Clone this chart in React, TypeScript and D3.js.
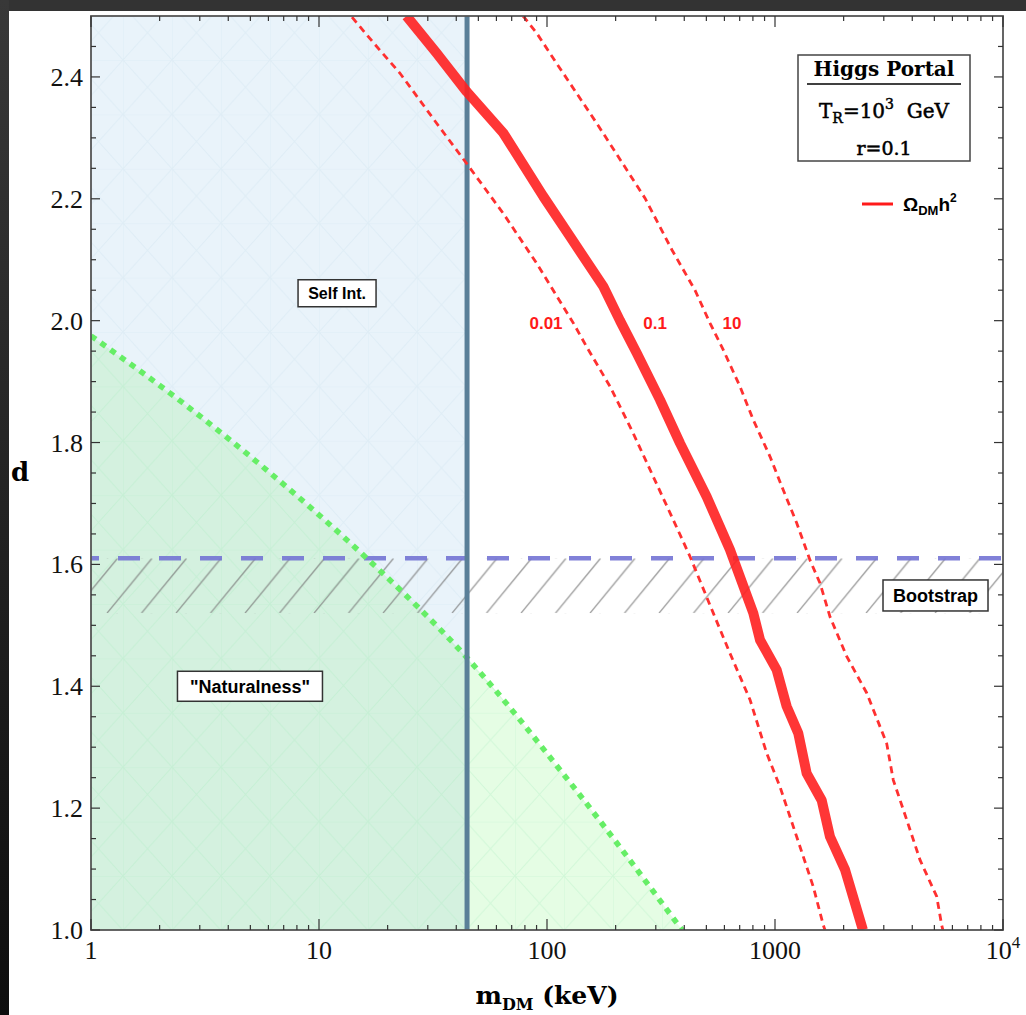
import * as d3 from "d3";
import React from "react";

const W = 1026;
const H = 1015;
const plot = { left: 91, right: 1003, top: 16, bottom: 930 };

const xDomain: [number, number] = [1, 1e4];
const yDomain: [number, number] = [1.0, 2.5];
const yTickValues = [1.0, 1.2, 1.4, 1.6, 1.8, 2.0, 2.2, 2.4];

const selfIntMass = 44.6; // keV, vertical bound
const bootstrapD = 1.61;
const bootstrapHatchD = 1.52;

// "Naturalness" boundary (green dotted)
const naturalMass = [1, 2.53, 6.15, 16.2, 45, 125, 391];
const naturalD = [1.975, 1.865, 1.749, 1.61, 1.445, 1.244, 1.0];

// Omega_DM h^2 = 0.1 (solid)
const omega01Mass = [24.2, 32.8, 44.4, 64.3, 96.3, 126.2, 176.6, 209.0, 247.4, 313.1, 383.1, 501.7, 634.7, 803.2, 859.6, 1017, 1125, 1265, 1377, 1602, 1743, 2028, 2430];
const omega01D = [2.5, 2.439, 2.376, 2.308, 2.204, 2.138, 2.056, 2.0, 1.947, 1.87, 1.799, 1.711, 1.624, 1.52, 1.476, 1.427, 1.367, 1.323, 1.257, 1.213, 1.153, 1.099, 1.0];

// Omega_DM h^2 = 0.01 (dashed, left)
const omega001Mass = [13.96, 17.25, 22.66, 32.8, 44.4, 64.3, 90.1, 130.5, 149.3, 189.0, 239.0, 292.5, 358.0, 423.8, 536.3, 634.7, 776.9, 919.6, 1052, 1245, 1472, 1629, 1656];
const omega001D = [2.498, 2.457, 2.406, 2.324, 2.258, 2.176, 2.094, 1.996, 1.957, 1.892, 1.815, 1.744, 1.673, 1.613, 1.52, 1.454, 1.378, 1.29, 1.235, 1.153, 1.071, 1.008, 1.0];

// Omega_DM h^2 = 10 (dashed, right)
const omega10Mass = [78.5, 80.1, 90.1, 110.3, 135.0, 165.2, 205.5, 269.1, 353.3, 445.8, 518.7, 593.2, 702.2, 803.2, 950.8, 1087, 1245, 1424, 1576, 1743, 2063, 2525, 3090, 3303, 3781, 4325, 5119, 5384, 5450];
const omega10D = [2.5, 2.496, 2.472, 2.422, 2.373, 2.324, 2.269, 2.201, 2.116, 2.05, 1.996, 1.952, 1.892, 1.837, 1.777, 1.722, 1.668, 1.607, 1.569, 1.514, 1.449, 1.389, 1.306, 1.246, 1.181, 1.115, 1.055, 1.008, 1.0];

const curveLabels = ["0.01", "0.1", "10"];
const curveLabelMass = [99, 298, 648];
const curveLabelD = 1.996;

const zip = (a: number[], b: number[]) => a.map((v, i) => [v, b[i]] as [number, number]);

const serif = "'DejaVu Serif', serif";
const tickFont = "'Liberation Serif', 'Times New Roman', serif";
const sans = "'Liberation Sans', Arial, sans-serif";

const LabelBox = ({ cx, cy, w, h, text, size }: { cx: number; cy: number; w: number; h: number; text: string; size: number }) => (
  <g>
    <rect x={cx - w / 2} y={cy - h / 2} width={w} height={h} fill="#fff" stroke="#333" strokeWidth={1.5} />
    <text x={cx} y={cy + size * 0.36} textAnchor="middle" fontFamily={sans} fontWeight="bold" fontSize={size} fill="#000">
      {text}
    </text>
  </g>
);

const App = () => {
  const x = d3.scaleLog().domain(xDomain).range([plot.left, plot.right]);
  const y = d3.scaleLinear().domain(yDomain).range([plot.bottom, plot.top]);

  const line = d3.line<[number, number]>().x((d) => x(d[0])).y((d) => y(d[1]));
  const smooth = d3.line<[number, number]>().x((d) => x(d[0])).y((d) => y(d[1])).curve(d3.curveMonotoneX);
  const area = d3
    .area<[number, number]>()
    .x((d) => x(d[0]))
    .y0(y(yDomain[0]))
    .y1((d) => y(d[1]))
    .curve(d3.curveMonotoneX);

  const naturalPts = zip(naturalMass, naturalD);
  const greenPath = area(naturalPts) || "";
  const xs = x(selfIntMass);

  const xTicks = x.ticks();
  const isMajor = (v: number) => Math.abs(Math.log10(v) - Math.round(Math.log10(v))) < 1e-9;
  const yMinor = d3.range(1.0, 2.4999, 0.05);

  const pw = plot.right - plot.left;
  const ph = plot.bottom - plot.top;
  const hatchTop = y(bootstrapD);
  const hatchBottom = y(bootstrapHatchD);
  const hh = hatchBottom - hatchTop;

  return (
    <svg width={W} height={H} style={{ position: "absolute", left: 0, top: 0 }}>
      <defs>
        <linearGradient id="sideDark" x1="0" y1="0" x2="0" y2="1">
          <stop offset="0" stopColor="#383838" />
          <stop offset="1" stopColor="#0e0e0e" />
        </linearGradient>
        <clipPath id="plotClip">
          <rect x={plot.left} y={plot.top} width={pw} height={ph} />
        </clipPath>
        <clipPath id="leftClip">
          <rect x={plot.left} y={plot.top} width={xs - plot.left} height={ph} />
        </clipPath>
        <clipPath id="rightClip">
          <rect x={xs} y={plot.top} width={plot.right - xs} height={ph} />
        </clipPath>
        <pattern id="meshBlue" patternUnits="userSpaceOnUse" x={123} y={60} width={49} height={54.4}>
          <path d="M0,0V54.4M0,0H49M0,0L49,54.4M49,0L0,54.4" stroke="#c9dfee" strokeWidth={1} fill="none" opacity={0.3} />
        </pattern>
        <pattern id="meshGreen" patternUnits="userSpaceOnUse" x={123} y={60} width={49} height={54.4}>
          <path d="M0,0V54.4M0,0H49M0,0L49,54.4M49,0L0,54.4" stroke="#a8ebbd" strokeWidth={1} fill="none" opacity={0.3} />
        </pattern>
        <pattern id="hatch" patternUnits="userSpaceOnUse" x={107} y={hatchTop} width={34.5} height={hh}>
          <path
            d={`M0,${hh}L45,0M-34.5,${hh}L10.5,0M34.5,${hh}L79.5,0`}
            stroke="#777"
            strokeWidth={1.4}
            opacity={0.7}
            fill="none"
          />
        </pattern>
      </defs>

      {/* page frame */}
      <rect x={0} y={0} width={W} height={H} fill="#fff" />
      <rect x={0} y={0} width={W} height={11} fill="#333" />
      <rect x={0} y={0} width={9} height={H} fill="url(#sideDark)" />

      <g clipPath="url(#plotClip)">
        {/* Self interaction region */}
        <rect x={plot.left} y={plot.top} width={xs - plot.left} height={ph} fill="#e9f3fa" />
        <rect x={plot.left} y={plot.top} width={xs - plot.left} height={ph} fill="url(#meshBlue)" />

        {/* Naturalness region */}
        <path d={greenPath} fill="#d4f1df" clipPath="url(#leftClip)" />
        <path d={greenPath} fill="#e5fde4" clipPath="url(#rightClip)" />
        <path d={greenPath} fill="url(#meshGreen)" />

        {/* Bootstrap hatch */}
        <rect x={plot.left} y={hatchTop} width={pw} height={hh} fill="url(#hatch)" />
        <line x1={plot.left} x2={plot.right} y1={y(bootstrapD)} y2={y(bootstrapD)} stroke="#7474d4" strokeWidth={4.5} strokeDasharray="22 19" strokeDashoffset={14} opacity={0.9} />

        {/* naturalness boundary */}
        <path d={smooth(naturalPts) || ""} fill="none" stroke="#66ee66" strokeWidth={5.5} strokeDasharray="6 6" />

        {/* self-int bound */}
        <line x1={xs} x2={xs} y1={plot.top} y2={plot.bottom} stroke="#5a7f98" strokeWidth={5} />

        {/* relic curves */}
        <path d={line(zip(omega001Mass, omega001D)) || ""} fill="none" stroke="#ff3030" strokeWidth={2.8} strokeDasharray="7 5" />
        <path d={line(zip(omega10Mass, omega10D)) || ""} fill="none" stroke="#ff3030" strokeWidth={2.8} strokeDasharray="7 5" />
        <path d={line(zip(omega01Mass, omega01D)) || ""} fill="none" stroke="#ff2020" strokeWidth={10} strokeLinejoin="round" opacity={0.9} />
      </g>

      {curveLabels.map((t, i) => (
        <text key={t} x={x(curveLabelMass[i])} y={y(curveLabelD) + 6} textAnchor="middle" fontFamily={sans} fontWeight="bold" fontSize={17} fill="#ff1a1a">
          {t}
        </text>
      ))}

      <LabelBox cx={x(12.0)} cy={y(2.045)} w={78} h={27} text="Self Int." size={16} />
      <LabelBox cx={x(4.98)} cy={y(1.4)} w={145} h={30} text={'"Naturalness"'} size={18} />
      <LabelBox cx={x(5058)} cy={y(1.549)} w={105} h={31} text="Bootstrap" size={18} />

      {/* legend box */}
      <rect x={798} y={55} width={172} height={106} fill="#fff" stroke="#444" strokeWidth={1.5} />
      <text x={884} y={76} textAnchor="middle" fontFamily={serif} fontWeight="bold" fontSize={20} fill="#000">
        Higgs Portal
      </text>
      <line x1={807} x2={961} y1={84} y2={84} stroke="#000" strokeWidth={1.5} />
      <text x={884} y={118} textAnchor="middle" fontFamily={serif} fontSize={20} fill="#000" stroke="#000" strokeWidth={0.5}>
        T<tspan fontSize={14} dy={5}>R</tspan>
        <tspan dy={-5}>=10</tspan>
        <tspan fontSize={14} dy={-9}>3</tspan>
        <tspan dy={9}>{"\u00a0 GeV"}</tspan>
      </text>
      <text x={884} y={155} textAnchor="middle" fontFamily={serif} fontSize={19} fill="#000" stroke="#000" strokeWidth={0.5}>
        r=0.1
      </text>
      <line x1={862} x2={893} y1={204} y2={204} stroke="#ff1a1a" strokeWidth={3} />
      <text x={903} y={211} fontFamily={sans} fontWeight="bold" fontSize={19} fill="#000">
        Ω<tspan fontSize={13} dy={4}>DM</tspan>
        <tspan dy={-4}>h</tspan>
        <tspan fontSize={12} dy={-9}>2</tspan>
      </text>

      {/* frame */}
      <rect x={plot.left} y={plot.top} width={pw} height={ph} fill="none" stroke="#555" strokeWidth={1.8} />

      {/* x ticks */}
      {xTicks.map((v, i) => {
        const len = isMajor(v) ? 11 : 5;
        const px = x(v);
        return (
          <g key={"xt" + i}>
            <line x1={px} x2={px} y1={plot.bottom} y2={plot.bottom - len} stroke="#333" strokeWidth={1.2} />
            <line x1={px} x2={px} y1={plot.top} y2={plot.top + len} stroke="#333" strokeWidth={1.2} />
          </g>
        );
      })}
      {xTicks.filter(isMajor).map((v) => {
        const e = Math.round(Math.log10(v));
        return (
          <text key={"xl" + v} x={x(v)} y={959} textAnchor="middle" fontFamily={tickFont} fontSize={26} fill="#111">
            {e < 4 ? String(v) : (
              <>
                10<tspan fontSize={17} dy={-11}>{e}</tspan>
              </>
            )}
          </text>
        );
      })}

      {/* y ticks */}
      {yMinor.map((v, i) => {
        const major = Math.abs(v * 5 - Math.round(v * 5)) < 1e-6;
        const len = major ? 9 : 5;
        const py = y(v);
        return (
          <g key={"yt" + i}>
            <line x1={plot.left} x2={plot.left + len} y1={py} y2={py} stroke="#333" strokeWidth={1.2} />
            <line x1={plot.right} x2={plot.right - len} y1={py} y2={py} stroke="#333" strokeWidth={1.2} />
          </g>
        );
      })}
      {yTickValues.map((v) => (
        <text key={"yl" + v} x={83} y={y(v) + 9} textAnchor="end" fontFamily={tickFont} fontSize={26} fill="#111">
          {v.toFixed(1)}
        </text>
      ))}

      {/* axis titles */}
      <text x={20} y={481} textAnchor="middle" fontFamily={serif} fontWeight="bold" fontSize={26} fill="#000">
        d
      </text>
      <text x={547} y={1004} textAnchor="middle" fontFamily={serif} fontWeight="bold" fontSize={25} fill="#000">
        m<tspan fontSize={16} dy={6}>DM</tspan>
        <tspan dy={-6}>{"\u00a0(keV)"}</tspan>
      </text>
    </svg>
  );
};

export default App;
